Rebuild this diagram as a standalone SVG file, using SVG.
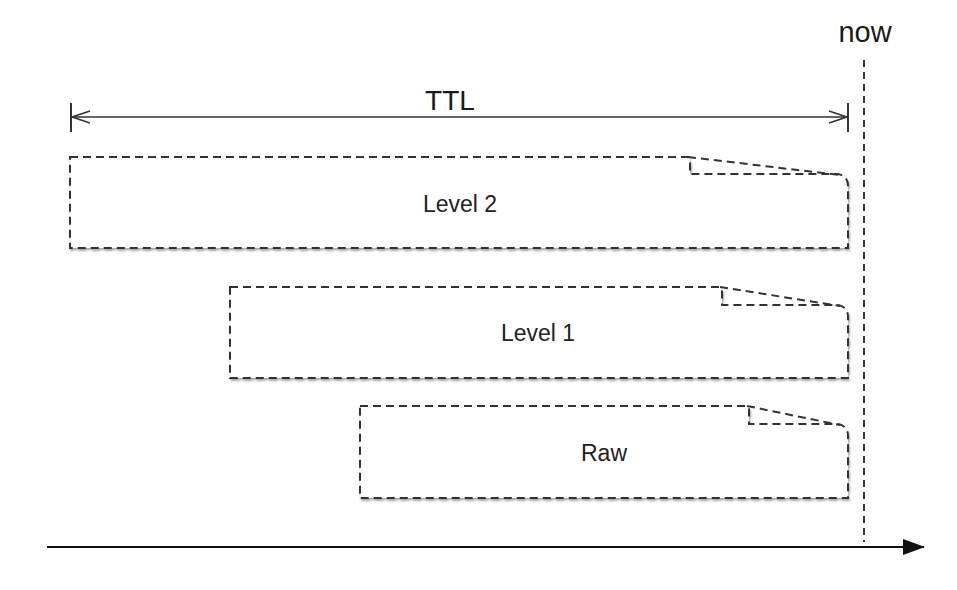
<svg xmlns="http://www.w3.org/2000/svg" width="957" height="590" viewBox="0 0 957 590">
<style>
.box{fill:#fff;stroke:#333;stroke-width:2;stroke-dasharray:8 5;filter:url(#sh)}
.fold{fill:none;stroke:#333;stroke-width:2;stroke-dasharray:8 5}
.lbl{font-family:"Liberation Sans",Arial,sans-serif;font-size:23px;fill:#222;text-anchor:middle}
.big{font-family:"Liberation Sans",Arial,sans-serif;font-size:28px;fill:#1a1a1a;text-anchor:middle}
</style>
<defs>
<filter id="sh" x="-5%" y="-10%" width="110%" height="130%">
<feDropShadow dx="1" dy="2" stdDeviation="1.2" flood-color="#000" flood-opacity="0.35"/>
</filter>
<marker id="open" viewBox="0 0 20 14" refX="19" refY="7" markerWidth="20" markerHeight="14" markerUnits="userSpaceOnUse" orient="auto-start-reverse">
<path d="M1,1 L19,7 L1,13" fill="none" stroke="#333" stroke-width="1.6"/>
</marker>
<marker id="solid" viewBox="0 0 22 16" refX="21" refY="8" markerWidth="22" markerHeight="16" markerUnits="userSpaceOnUse" orient="auto">
<path d="M0,0 L22,8 L0,16 Z" fill="#111"/>
</marker>
</defs>
<g id="connectors">
<line x1="864" y1="60" x2="864" y2="542" stroke="#333" stroke-width="2" stroke-dasharray="7 5"/>
<line x1="47" y1="547" x2="924" y2="547" stroke="#111" stroke-width="2.2" marker-end="url(#solid)"/>
<g id="ttl">
<line x1="72" y1="117" x2="847" y2="117" stroke="#333" stroke-width="1.6" marker-start="url(#open)" marker-end="url(#open)"/>
<line x1="71" y1="103" x2="71" y2="132" stroke="#333" stroke-width="2"/>
<line x1="848" y1="103" x2="848" y2="132" stroke="#333" stroke-width="2"/>
<text class="big" x="450" y="110">TTL</text>
</g>
<text class="big" x="865" y="42" style="font-size:29px">now</text>
</g>
<g id="level2">
<path class="box" d="M70,157 L688,157 L690,160 L690,174 L838,174 Q848,176 848,186 L848,248 L70,248 Z"/>
<path class="fold" d="M688,157 L840,175"/>
<text class="lbl" x="460" y="212">Level 2</text>
</g>
<g id="level1">
<path class="box" d="M230,287 L720,287 L722,290 L722,305 L838,305 Q848,307 848,317 L848,378 L230,378 Z"/>
<path class="fold" d="M720,287 L840,306"/>
<text class="lbl" x="538" y="341">Level 1</text>
</g>
<g id="raw">
<path class="box" d="M360,406 L747,406 L749,409 L749,424 L838,424 Q848,426 848,436 L848,498 L360,498 Z"/>
<path class="fold" d="M747,406 L840,425"/>
<text class="lbl" x="604" y="461">Raw</text>
</g>
</svg>
